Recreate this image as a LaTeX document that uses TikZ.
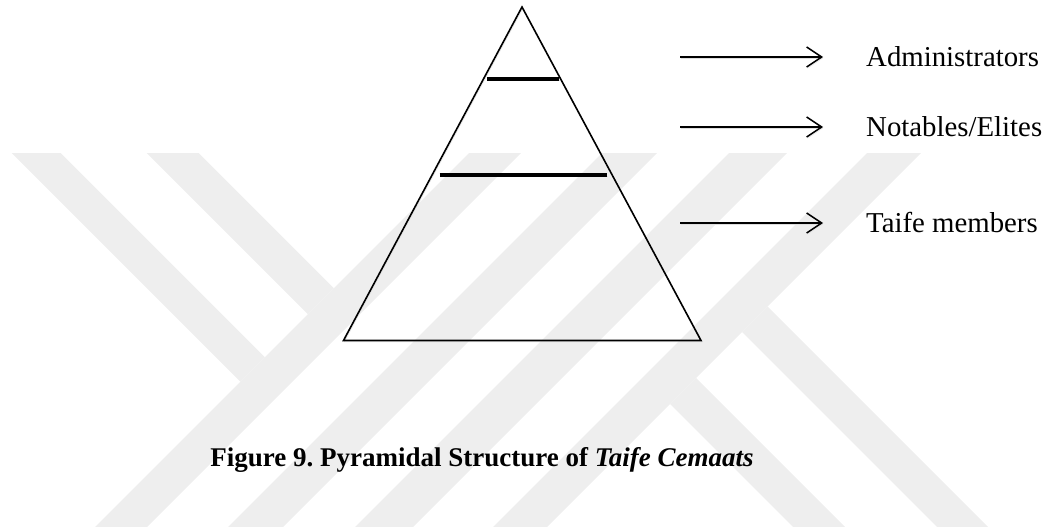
\documentclass[tikz,border=0pt]{standalone}
\usepackage{fontspec}
\setmainfont{Liberation Serif}
\usetikzlibrary{arrows.meta}
\definecolor{wmgray}{RGB}{238,238,238}
\frenchspacing
\tikzset{
  wm/.style={fill=wmgray, draw=none},
  shd/.style={preaction={draw=black!13, transform canvas={shift={(0.9pt,-1.3pt)}}}},
  pyr/.style={draw=black, line width=1.6pt, line join=miter, shd},
  bar/.style={draw=black, line width=4.8pt, shd},
  arr/.style={draw=black, line width=1.5pt, -{Straight Barb[length=15pt,width=20pt,line width=1.5pt]}, shd},
  lbl/.style={font=\fontsize{28.8}{34}\selectfont, anchor=base west, inner sep=0pt},
  figcaption/.style={font=\fontsize{27}{32}\selectfont\bfseries, anchor=base, inner sep=0pt}
}
\begin{document}
\begin{tikzpicture}[x=1pt,y=-1pt]
\useasboundingbox (0,0) rectangle (1051,529);
% watermark
\begin{scope}
  \clip (0,153.5) rectangle (1051,526);
  \foreach \a/\b in {622/674, 755/810, 882/940, 1020/1074}{
    \fill[wm] (\a-150,150) -- (\b-150,150) -- (\b-530,530) -- (\a-530,530) -- cycle;
  }
  \fill[wm] (8.5,150) -- (57.5,150) -- (264.75,357.25) -- (240.25,381.75) -- cycle;
  \fill[wm] (143.5,150) -- (195.5,150) -- (333.75,288.25) -- (307.75,314.25) -- cycle;
  \fill[wm] (742,332) -- (767.5,306.5) -- (991,530) -- (940,530) -- cycle;
  \fill[wm] (670,404) -- (696,378) -- (848,530) -- (796,530) -- cycle;
\end{scope}
% pyramid
\coordinate (apex) at (522,7);
\coordinate (bl) at (343.5,340.5);
\coordinate (br) at (701,340.5);
\draw[pyr] (apex) -- (br) -- (bl) -- cycle;
\coordinate (b1l) at (487,79);
\coordinate (b1r) at (559,79);
\coordinate (b2l) at (439.5,175);
\coordinate (b2r) at (607,175);
\draw[bar] (b1l) -- (b1r);
\draw[bar] (b2l) -- (b2r);
% arrows and labels
\coordinate (a1s) at (680,57);  \coordinate (a1e) at (823,57);
\coordinate (a2s) at (680,127); \coordinate (a2e) at (823,127);
\coordinate (a3s) at (680,223); \coordinate (a3e) at (823,223);
\draw[arr] (a1s) -- (a1e);
\draw[arr] (a2s) -- (a2e);
\draw[arr] (a3s) -- (a3e);
\node[lbl] (adm) at (866,66.5) {Administrators};
\node[lbl] (nob) at (866,136.5) {Notables/Elites};
\node[lbl] (tai) at (866,232.5) {Taife members};
\node[figcaption] (caption) at (482,466) {Figure 9. Pyramidal Structure of \textit{Taife Cemaats}};
\end{tikzpicture}
\end{document}
